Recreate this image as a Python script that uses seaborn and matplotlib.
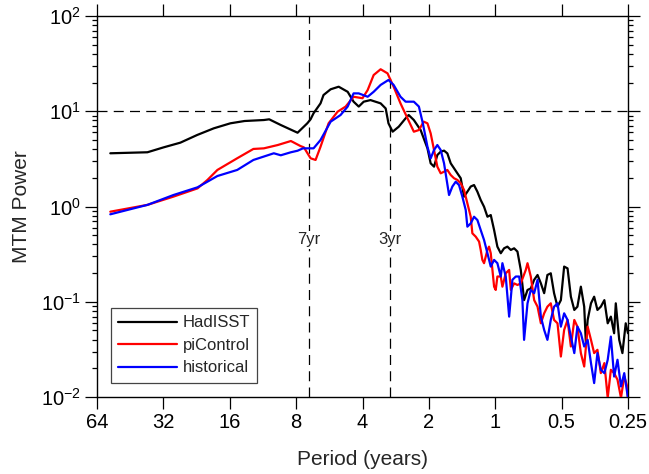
import matplotlib
matplotlib.use("Agg")
import matplotlib.pyplot as plt
import pandas as pd
import seaborn as sns

# MTM power spectra of the index: observations vs. two model experiments
runs = ["HadISST", "piControl", "historical"]
colors = ["black", "red", "blue"]

hadisst_period = [55.7, 37.8, 31.9, 26.8, 22.5, 18.9, 15.9, 13.7, 11.2, 10.6, 9.39, 7.88, 7.12, 6.88,
                  6.67, 6.20, 6.01, 5.58, 5.13, 4.67, 4.39, 4.16, 3.95, 3.68, 3.31, 3.14, 3.05, 2.92,
                  2.74, 2.55, 2.47, 2.34, 2.18, 2.03,
                  1.963, 1.895, 1.831, 1.768, 1.707, 1.649, 1.592, 1.538, 1.485, 1.434, 1.385, 1.338,
                  1.292, 1.248, 1.205, 1.164, 1.124, 1.085, 1.048, 1.012, 0.978, 0.944, 0.912, 0.881,
                  0.850, 0.821, 0.793, 0.766, 0.740, 0.714, 0.690, 0.666, 0.643, 0.621, 0.600, 0.580,
                  0.560, 0.541, 0.522, 0.504, 0.487, 0.470, 0.454, 0.438, 0.424, 0.409, 0.395, 0.388,
                  0.381, 0.368, 0.356, 0.344, 0.332, 0.320, 0.309, 0.299, 0.289, 0.284, 0.274, 0.265,
                  0.256, 0.25]
hadisst_power = [3.62, 3.71, 4.18, 4.68, 5.63, 6.62, 7.47, 7.90, 8.09, 8.23, 7.17, 5.95, 7.47, 8.23,
                 9.52, 12.1, 14.8, 17.0, 18.1, 16.0, 12.6, 11.2, 12.6, 13.1, 12.1, 10.7, 7.47, 6.10,
                 6.88, 8.43, 9.13, 8.09, 6.35, 4.08,
                 2.84, 2.62, 3.47, 3.76, 3.86, 3.61, 2.84, 2.52, 2.23, 1.98, 1.27, 1.43,
                 1.62, 1.68, 1.43, 1.17, 0.994, 0.781, 0.813, 0.566, 0.379, 0.323, 0.364, 0.379,
                 0.350, 0.364, 0.336, 0.216, 0.104, 0.133, 0.138, 0.170, 0.191, 0.156, 0.123, 0.191,
                 0.199, 0.123, 0.0888, 0.104, 0.234, 0.224, 0.113, 0.0820, 0.0888, 0.144, 0.0888, 0.0366,
                 0.0644, 0.0963, 0.113, 0.0820, 0.0888, 0.104, 0.0594, 0.0698, 0.0467, 0.0963, 0.0398, 0.0289,
                 0.0594, 0.0467]

picontrol_period = [55.7, 37.8, 28.8, 22.4, 20.2, 18.2, 14.8, 12.5, 11.2, 9.69, 8.45, 7.64, 7.38, 6.88,
                    6.53, 6.20, 5.70, 5.19, 4.77, 4.39, 4.00, 3.79, 3.56, 3.31, 3.08, 2.89, 2.69, 2.50,
                    2.34, 2.22, 2.11, 2.03,
                    1.963, 1.895, 1.831, 1.768, 1.707, 1.649, 1.592, 1.538, 1.485, 1.434, 1.385, 1.338,
                    1.292, 1.270, 1.226, 1.184, 1.164, 1.144, 1.124, 1.085, 1.067, 1.048, 1.012, 0.995,
                    0.978, 0.944, 0.928, 0.896, 0.865, 0.850, 0.821, 0.793, 0.766, 0.727, 0.714, 0.690,
                    0.666, 0.643, 0.621, 0.600, 0.580, 0.560, 0.541, 0.522, 0.504, 0.487, 0.470, 0.454,
                    0.438, 0.424, 0.409, 0.395, 0.381, 0.368, 0.356, 0.344, 0.332, 0.320, 0.309, 0.299,
                    0.289, 0.279, 0.269, 0.260, 0.252, 0.25]
picontrol_power = [0.882, 1.04, 1.27, 1.55, 1.90, 2.42, 3.21, 4.02, 4.08, 4.42, 4.87, 4.31, 4.18, 3.21,
                   3.08, 4.24, 7.47, 9.89, 11.2, 14.2, 13.7, 16.7, 24.0, 27.6, 25.0, 18.1, 12.1, 8.43,
                   6.10, 6.35, 7.77, 7.47,
                   5.86, 3.92, 2.62, 2.23, 2.32, 2.42, 2.14, 1.98, 1.90, 1.75, 1.49, 1.08,
                   0.781, 0.523, 0.482, 0.428, 0.350, 0.275, 0.254, 0.350, 0.379, 0.323, 0.144, 0.133,
                   0.184, 0.184, 0.144, 0.199, 0.216, 0.133, 0.156, 0.150, 0.156, 0.216, 0.254, 0.184,
                   0.104, 0.0888, 0.0594, 0.0756, 0.0888, 0.0963, 0.0644, 0.0594, 0.0266, 0.0506, 0.0644, 0.0339,
                   0.0644, 0.0548, 0.0289, 0.0209, 0.0548, 0.0398, 0.0289, 0.0313, 0.0178, 0.0227, 0.0098, 0.0193,
                   0.0178, 0.0152, 0.0098, 0.0164, 0.0129, 0.0095]

historical_period = [55.7, 37.8, 28.8, 22.4, 18.2, 14.8, 12.5, 10.1, 9.39, 8.45, 7.88, 7.45, 6.67, 6.20,
                     5.58, 5.03, 4.67, 4.39, 4.16, 3.79, 3.56, 3.31, 3.05, 2.89, 2.69, 2.55, 2.34, 2.22,
                     2.13, 2.03,
                     1.963, 1.895, 1.831, 1.768, 1.707, 1.620, 1.565, 1.511, 1.460, 1.410, 1.361, 1.338,
                     1.292, 1.248, 1.205, 1.164, 1.124, 1.085, 1.048, 1.012, 0.978, 0.944, 0.928, 0.896,
                     0.865, 0.836, 0.807, 0.779, 0.753, 0.740, 0.714, 0.690, 0.666, 0.643, 0.621, 0.600,
                     0.580, 0.560, 0.541, 0.522, 0.504, 0.487, 0.470, 0.454, 0.438, 0.424, 0.409, 0.395,
                     0.381, 0.368, 0.356, 0.344, 0.332, 0.320, 0.309, 0.299, 0.289, 0.279, 0.269, 0.260,
                     0.252, 0.25]
historical_power = [0.828, 1.04, 1.32, 1.59, 2.09, 2.42, 3.08, 3.62, 3.45, 3.71, 3.85, 4.08, 4.08, 4.99,
                    7.77, 9.13, 11.2, 15.4, 15.4, 14.2, 16.0, 18.9, 21.3, 18.9, 14.2, 12.6, 12.6, 11.2,
                    7.47, 4.24,
                    3.20, 3.92, 4.42, 3.92, 2.84, 1.32, 1.62, 1.82, 1.68, 1.27, 0.917, 0.614,
                    0.665, 0.781, 0.721, 0.566, 0.445, 0.323, 0.234, 0.275, 0.254, 0.184, 0.254, 0.184,
                    0.0698, 0.170, 0.184, 0.184, 0.104, 0.0398, 0.0963, 0.133, 0.123, 0.170, 0.0698, 0.0506,
                    0.0398, 0.0644, 0.0888, 0.0963, 0.0548, 0.0756, 0.0644, 0.0431, 0.0289, 0.0548, 0.0467, 0.0339,
                    0.0398, 0.0227, 0.0140, 0.0289, 0.0193, 0.0178, 0.0246, 0.0431, 0.0164, 0.0246, 0.0129, 0.0178,
                    0.0110, 0.0095]

period_ticks = [64, 32, 16, 8, 4, 2, 1, 0.5, 0.25]
period_tick_labels = ["64", "32", "16", "8", "4", "2", "1", "0.5", "0.25"]
power_ticks = [1e-2, 1e-1, 1e0, 1e1, 1e2]
power_tick_labels = [r"$\mathregular{10^{-2}}$", r"$\mathregular{10^{-1}}$", r"$\mathregular{10^{0}}$",
                     r"$\mathregular{10^{1}}$", r"$\mathregular{10^{2}}$"]
marked_periods = [7, 3]
marked_labels = ["7yr", "3yr"]
reference_power = 10

sns.set_theme(style="ticks")
plt.rcParams["font.family"] = ["Liberation Sans", "DejaVu Sans"]
plt.rcParams["mathtext.fontset"] = "custom"
plt.rcParams["mathtext.rm"] = "Liberation Sans"
plt.rcParams["mathtext.it"] = "Liberation Sans:italic"
plt.rcParams["mathtext.bf"] = "Liberation Sans:bold"

df = pd.concat([
    pd.DataFrame({"period": hadisst_period, "power": hadisst_power, "run": runs[0]}),
    pd.DataFrame({"period": picontrol_period, "power": picontrol_power, "run": runs[1]}),
    pd.DataFrame({"period": historical_period, "power": historical_power, "run": runs[2]}),
], ignore_index=True)

fig = plt.figure(figsize=(6.49, 4.74), dpi=100)
ax = fig.add_axes([97 / 649, 1 - 397 / 474, 531 / 649, 381 / 474])

sns.lineplot(data=df, x="period", y="power", hue="run", hue_order=runs,
             palette=dict(zip(runs, colors)), estimator=None, sort=False,
             linewidth=1.6, legend=False, ax=ax, zorder=3)
handles = ax.get_lines()[:3]

ax.set_xscale("log", base=2)
ax.set_yscale("log")
ax.set_xlim(64, 0.25)
ax.set_ylim(1e-2, 1e2)
ax.set_xticks(period_ticks)
ax.set_xticklabels(period_tick_labels)
ax.xaxis.set_minor_locator(matplotlib.ticker.NullLocator())
ax.set_yticks(power_ticks)
ax.set_yticklabels(power_tick_labels)
ax.yaxis.set_minor_locator(matplotlib.ticker.LogLocator(base=10, subs=range(2, 10)))
ax.yaxis.set_minor_formatter(matplotlib.ticker.NullFormatter())

ax.tick_params(which="both", direction="out", top=True, right=True,
               labeltop=False, labelright=False, width=0.9, colors="black")
ax.tick_params(which="major", length=8.5, pad=3, labelsize=14.5)
ax.tick_params(which="minor", length=3.6)
for s in ax.spines.values():
    s.set_visible(True)
    s.set_linewidth(1.0)
    s.set_color("black")

ax.set_xlabel("Period (years)", fontsize=15, labelpad=13)
ax.set_ylabel("MTM Power", fontsize=15, labelpad=7)

dash = dict(color="black", linewidth=0.9, dashes=(8, 5), zorder=2)
ax.axhline(reference_power, **dash)
for p, lab in zip(marked_periods, marked_labels):
    ax.axvline(p, **dash)
    ax.text(p, 0.445, lab, ha="center", va="center", fontsize=12, zorder=4,
            bbox=dict(facecolor="white", edgecolor="none", pad=1.2))

leg = ax.legend(handles, runs, loc="lower left", bbox_to_anchor=(0.026, 0.037),
                borderaxespad=0, frameon=True, fancybox=False, edgecolor="#444444",
                framealpha=1, fontsize=12, handlelength=3.5, handletextpad=0.35,
                labelspacing=0.45, borderpad=0.45)
leg.get_frame().set_linewidth(0.9)

fig.savefig("out.png", dpi=100)
